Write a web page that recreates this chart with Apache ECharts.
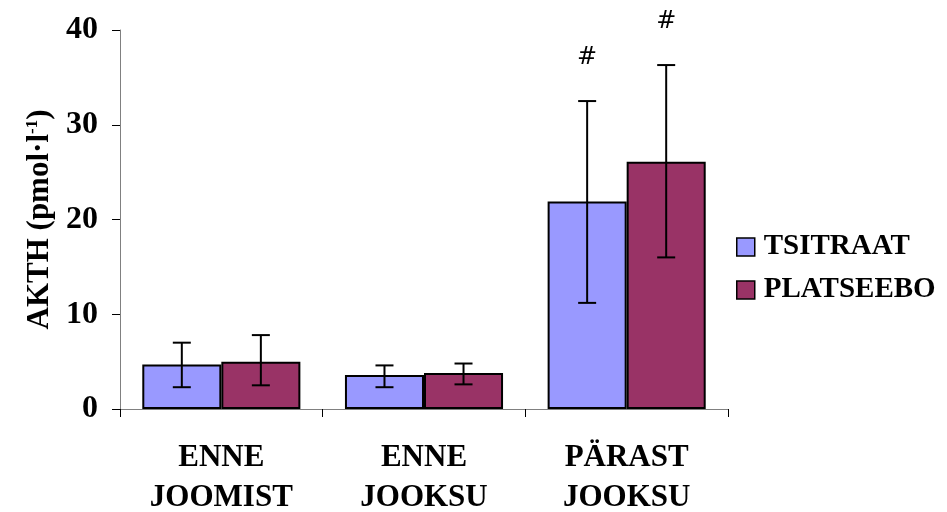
<!DOCTYPE html>
<html>
<head>
<meta charset="utf-8">
<script src="https://cdn.jsdelivr.net/npm/echarts@6/dist/echarts.min.js"></script>
<style>html,body{margin:0;padding:0;background:#fff;}#c{width:947px;height:512px;}</style>
</head>
<body>
<div id="c"></div>
<script>
var categories = ['ENNE\nJOOMIST', 'ENNE\nJOOKSU', 'PÄRAST\nJOOKSU'];
var seriesNames = ['TSITRAAT', 'PLATSEEBO'];
var tsitraat = [4.7, 3.6, 21.9];
var tsitraatLow = [2.3, 2.3, 11.2];
var tsitraatHigh = [7.0, 4.6, 32.5];
var platseebo = [5.0, 3.8, 26.1];
var platseeboLow = [2.5, 2.6, 16.0];
var platseeboHigh = [7.8, 4.8, 36.3];
var tsitraatMarks = ['', '', '#'];
var platseeboMarks = ['', '', '#'];
var yTicks = [0, 10, 20, 30, 40];

var GAP = 0.22;
var font = '"Liberation Serif", "Times New Roman", serif';

function errSeries(idx, lows, highs, marks) {
  var data = categories.map(function (c, i) { return [i, lows[i], highs[i], marks[i]]; });
  return {
    type: 'custom',
    z: 10,
    silent: true,
    data: data,
    encode: { x: 0, y: [1, 2] },
    renderItem: function (params, api) {
      var ci = api.value(0);
      var band = api.size([1, 0])[0];
      var bw = band * (1 - GAP) / 2;
      var cx0 = api.coord([ci, 0])[0];
      var x = cx0 + (idx === 0 ? -bw / 2 : bw / 2);
      var lo = api.coord([ci, api.value(1)])[1];
      var hi = api.coord([ci, api.value(2)])[1];
      var cap = 9;
      var st = { stroke: '#000', lineWidth: 2 };
      var children = [
        { type: 'line', shape: { x1: x, y1: lo, x2: x, y2: hi }, style: st },
        { type: 'line', shape: { x1: x - cap, y1: lo, x2: x + cap, y2: lo }, style: st },
        { type: 'line', shape: { x1: x - cap, y1: hi, x2: x + cap, y2: hi }, style: st }
      ];
      var m = marks[ci];
      if (m) {
        children.push({ type: 'text', style: { text: m, x: x, y: hi - 43, align: 'center', verticalAlign: 'middle', font: '24px "DejaVu Sans", sans-serif', fill: '#000' } });
      }
      return { type: 'group', children: children };
    }
  };
}

var chart = echarts.init(document.getElementById('c'));
chart.setOption({
  backgroundColor: '#fff',
  animation: false,
  grid: { left: 120, right: 219, top: 30, bottom: 103, outerBoundsMode: 'none', containLabel: false },
  legend: {
    orient: 'vertical',
    left: 731,
    top: 226,
    icon: 'rect',
    itemWidth: 18,
    itemHeight: 18,
    itemGap: 11,
    data: seriesNames,
    itemStyle: { borderColor: '#000', borderWidth: 1.5 },
    textStyle: { fontFamily: font, fontWeight: 'bold', fontSize: 29, lineHeight: 32, color: '#000', padding: [0, 0, 0, 4] }
  },
  xAxis: {
    type: 'category',
    data: categories,
    axisLine: { lineStyle: { color: '#808080', width: 1 } },
    axisTick: { show: true, alignWithLabel: false, length: 8, lineStyle: { color: '#000' } },
    axisLabel: { margin: 29, fontFamily: font, fontWeight: 'bold', fontSize: 31, color: '#000', lineHeight: 40, interval: 0 }
  },
  yAxis: {
    type: 'value',
    min: yTicks[0],
    max: yTicks[yTicks.length - 1],
    interval: 10,
    name: 'AKTH (pmol·l{sup|-1})',
    nameLocation: 'middle',
    nameGap: 64,
    nameTextStyle: {
      fontFamily: font, fontWeight: 'bold', fontSize: 31, color: '#000',
      rich: { sup: { fontFamily: font, fontWeight: 'bold', fontSize: 17, verticalAlign: 'top', padding: [0, 0, 14, 0] } }
    },
    axisLine: { show: true, lineStyle: { color: '#808080', width: 1 } },
    axisTick: { show: true, length: 8, lineStyle: { color: '#000' } },
    splitLine: { show: false },
    axisLabel: { margin: 22, fontFamily: font, fontWeight: 'bold', fontSize: 32, color: '#000' }
  },
  series: [
    { name: seriesNames[0], type: 'bar', data: tsitraat, barGap: '0%', barCategoryGap: (GAP * 100) + '%',
      itemStyle: { color: '#9999FF', borderColor: '#000', borderWidth: 2 } },
    { name: seriesNames[1], type: 'bar', data: platseebo, barGap: '0%', barCategoryGap: (GAP * 100) + '%',
      itemStyle: { color: '#993366', borderColor: '#000', borderWidth: 2 } },
    errSeries(0, tsitraatLow, tsitraatHigh, tsitraatMarks),
    errSeries(1, platseeboLow, platseeboHigh, platseeboMarks)
  ]
});
</script>
</body>
</html>
